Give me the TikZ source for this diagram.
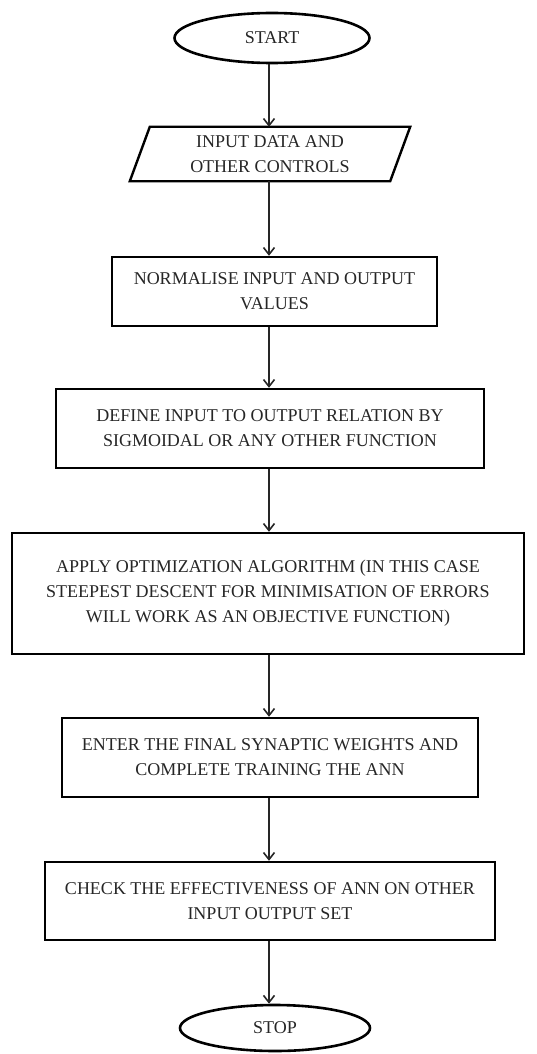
\documentclass[tikz,border=0pt]{standalone}
\usepackage{fontspec}
\setmainfont{Liberation Serif}
\usetikzlibrary{arrows.meta,shapes.geometric}
\begin{document}
\begin{tikzpicture}[x=1pt,y=-1pt,
  every node/.style={font=\fontsize{18}{25}\selectfont, align=center, inner sep=0pt, text=black!85},
  procbox/.style={draw=black, line width=2.4pt, rectangle},
  term/.style={draw=black, line width=2.6pt, ellipse},
  flow/.style={draw=black!85, line width=1.6pt, -{Straight Barb[length=7pt,width=11pt,line width=1.6pt]}}]
\useasboundingbox (0,0) rectangle (536,1054);
\node[term, minimum width=195pt, minimum height=50pt] (start) at (272,38) {START};
\node[minimum width=260pt, minimum height=54pt] (input) at (270,154) {INPUT DATA AND\\OTHER CONTROLS};
\draw[line width=2.4pt] ([xshift=-10pt]input.south west) -- ([xshift=10pt]input.north west) -- ([xshift=10pt]input.north east) -- ([xshift=-10pt]input.south east) -- cycle;
\node[procbox, minimum width=325pt, minimum height=69pt] (norm) at (274.5,291.5) {NORMALISE INPUT AND OUTPUT\\VALUES};
\node[procbox, minimum width=428pt, minimum height=79pt] (define) at (270,428.5) {DEFINE INPUT TO OUTPUT RELATION BY\\SIGMOIDAL OR ANY OTHER FUNCTION};
\node[procbox, minimum width=512pt, minimum height=121pt] (apply) at (268,593.5) {APPLY OPTIMIZATION ALGORITHM (IN THIS CASE\\STEEPEST DESCENT FOR MINIMISATION OF ERRORS\\WILL WORK AS AN OBJECTIVE FUNCTION)};
\node[procbox, minimum width=416pt, minimum height=79pt] (enter) at (270,757.5) {ENTER THE FINAL SYNAPTIC WEIGHTS AND\\COMPLETE TRAINING THE ANN};
\node[procbox, minimum width=450pt, minimum height=78pt] (check) at (270,901) {CHECK THE EFFECTIVENESS OF ANN ON OTHER\\INPUT OUTPUT SET};
\node[term, minimum width=190pt, minimum height=46pt] (stop) at (275,1028) {STOP};
\draw[flow] (start.south -| 269,0) -- (input.north -| 269,0);
\draw[flow] (input.south -| 269,0) -- (norm.north -| 269,0);
\draw[flow] (norm.south -| 269,0) -- (define.north -| 269,0);
\draw[flow] (define.south -| 269,0) -- (apply.north -| 269,0);
\draw[flow] (apply.south -| 269,0) -- (enter.north -| 269,0);
\draw[flow] (enter.south -| 269,0) -- (check.north -| 269,0);
\draw[flow] (check.south -| 269,0) -- (stop.north -| 269,0);
\end{tikzpicture}
\end{document}
